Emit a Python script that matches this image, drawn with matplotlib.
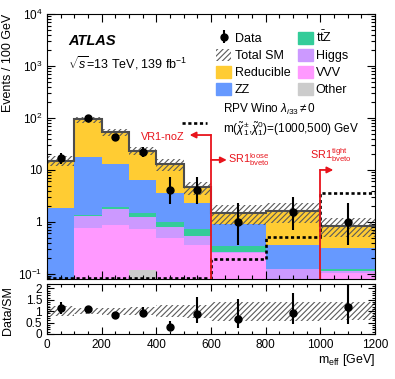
import numpy as np
import matplotlib
matplotlib.use('Agg')
import matplotlib.pyplot as plt
from matplotlib.patches import Patch
from matplotlib.ticker import MultipleLocator, LogLocator, FuncFormatter, NullFormatter

plt.rcParams['font.family'] = ['Liberation Sans', 'DejaVu Sans']
plt.rcParams['mathtext.fontset'] = 'custom'
plt.rcParams['mathtext.rm'] = 'Liberation Sans'
plt.rcParams['mathtext.it'] = 'Liberation Sans:italic'
plt.rcParams['mathtext.bf'] = 'Liberation Sans:bold'
plt.rcParams['hatch.linewidth'] = 0.8
plt.rcParams['hatch.color'] = '#5a5a5a'

# m_eff binning (GeV)
edges = np.array([0, 100, 200, 300, 400, 500, 600, 800, 1000, 1200])
centers = np.array([50, 150, 250, 350, 450, 550, 700, 900, 1100])

# background components, events / 100 GeV (stack order bottom -> top)
other = np.array([0.005, 0.005, 0.005, 0.12, 0.005, 0.005, 0.003, 0.003, 0.003])
vvv = np.array([0.02, 0.755, 0.87, 0.60, 0.48, 0.355, 0.25, 0.07, 0.10])
higgs = np.array([0.02, 0.56, 0.875, 0.51, 0.325, 0.185, 0.005, 0.05, 0.01])
ttz = np.array([0.01, 0.04, 0.17, 0.24, 0.19, 0.175, 0.09, 0.002, 0.012])
zz = np.array([1.83, 16.1, 11.0, 4.93, 2.66, 1.58, 0.55, 0.24, 0.195])
reducible = np.array([13.2, 76.5, 40.1, 17.1, 9.24, 2.3, 0.61, 1.29, 0.53])
sm_unc = np.array([0.22, 0.13, 0.15, 0.18, 0.25, 0.28, 0.42, 0.42, 0.40])

# data with asymmetric errors
data = np.array([17, 102, 43, 22, 4.1, 4.1, 1.0, 1.53, 1.0])
data_lo = np.array([12.9, 92, 36.5, 17.5, 2.2, 2.2, 0.36, 0.7, 0.36])
data_hi = np.array([21.3, 112, 50, 27.5, 7.4, 7.4, 2.3, 3.0, 2.3])

# RPV wino signal
signal = np.array([0.082, 0.082, 0.082, 0.082, 0.082, 0.082, 0.19, 0.51, 3.66])

components = [other, vvv, higgs, ttz, zz, reducible]
colors = ['#cccccc', '#ff99ff', '#cc99ff', '#33cc99', '#6699ff', '#ffcc33']
labels = ['Other', 'VVV', 'Higgs', r'$\mathrm{t\bar{t}Z}$', 'ZZ', 'Reducible']
red = '#e8141c'
hcol = '#5a5a5a'

fig = plt.figure(figsize=(3.95, 3.79), dpi=100)
ax = fig.add_axes([0.119, 0.264, 0.830, 0.699])
rax = fig.add_axes([0.119, 0.119, 0.830, 0.132])

# stacked backgrounds
bottom = np.full(len(centers), 1e-3)
for vals, c in zip(components, colors):
    top = bottom + vals
    ax.stairs(top, edges, baseline=bottom, fill=True, color=c, lw=0)
    bottom = top
total = bottom

ax.stairs(total * (1 + sm_unc), edges, baseline=total * (1 - sm_unc), fill=True,
          facecolor='none', edgecolor=hcol, hatch='//////', lw=0)
ax.stairs(total, edges, baseline=None, color='#4d4d4d', lw=1.5)
ax.stairs(signal, edges, baseline=None, color='k', lw=1.9, ls=(0, (1.2, 1.0)))

dat = ax.errorbar(centers, data, yerr=[data - data_lo, data_hi - data], fmt='o',
                  color='k', ms=5, lw=1.5, capsize=0, zorder=5)

# region markers
ax.plot([600, 600], [0.08, 47], color=red, lw=1.3, zorder=6)
ax.plot([1000, 1000], [0.08, 10], color=red, lw=1.3, zorder=6)
arr = dict(arrowstyle='-|>', color=red, lw=1.3, mutation_scale=9, shrinkA=0, shrinkB=0)
ax.annotate('', xy=(522, 47), xytext=(600, 47), arrowprops=arr, zorder=6)
ax.annotate('', xy=(658, 15.6), xytext=(600, 15.6), arrowprops=arr, zorder=6)
ax.annotate('', xy=(1048, 10), xytext=(1000, 10), arrowprops=arr, zorder=6)
ax.text(505, 43, 'VR1-noZ', color=red, fontsize=7.8, ha='right', va='center')
ax.text(662, 15.6, r'SR1$^{\rm loose}_{\rm bveto}$', color=red, fontsize=7.8,
        ha='left', va='center')
ax.text(962, 19, r'SR1$^{\rm tight}_{\rm bveto}$', color=red, fontsize=7.8,
        ha='left', va='center')

ax.set_xlim(0, 1200)
ax.set_yscale('log')
ax.set_ylim(0.08, 1e4)
ax.xaxis.set_major_locator(MultipleLocator(200))
ax.xaxis.set_minor_locator(MultipleLocator(50))
ax.yaxis.set_major_locator(LogLocator(base=10, numticks=20))
ax.yaxis.set_minor_locator(LogLocator(base=10, subs=np.arange(2, 10), numticks=20))
ax.yaxis.set_minor_formatter(NullFormatter())


def logfmt(v, pos):
    if abs(v - 1) < 1e-9:
        return '1'
    if abs(v - 10) < 1e-9:
        return '10'
    return r'$10^{%d}$' % round(np.log10(v))


ax.yaxis.set_major_formatter(FuncFormatter(logfmt))
ax.tick_params(which='both', direction='in', top=True, right=True, labelbottom=False,
               labelsize=8.5, width=0.8)
ax.tick_params(which='major', length=6)
ax.tick_params(which='minor', length=3)
ax.set_ylabel('Events / 100 GeV', fontsize=9, loc='top')
ax.yaxis.set_label_coords(-0.10, 1.0)

ax.text(0.064, 0.898, 'ATLAS', transform=ax.transAxes, fontsize=10.5,
        fontweight='bold', style='italic', va='center')
ax.text(0.064, 0.815, r'$\sqrt{s}$=13 TeV, 139 fb$^{-1}$', transform=ax.transAxes,
        fontsize=9, va='center')

handles = [dat,
           Patch(facecolor='none', edgecolor=hcol, hatch='//////', lw=0),
           Patch(color=colors[5]), Patch(color=colors[4]),
           Patch(color=colors[3]), Patch(color=colors[2]),
           Patch(color=colors[1]), Patch(color=colors[0])]
leg_labels = ['Data', 'Total SM', 'Reducible', 'ZZ', labels[3], 'Higgs', 'VVV', 'Other']
ax.legend(handles, leg_labels, ncol=2, loc='upper left', bbox_to_anchor=(0.49, 0.975),
          frameon=False, fontsize=9, handlelength=1.2, handleheight=1.1,
          handletextpad=0.25, labelspacing=0.3, columnspacing=0.6, borderpad=0.2)

ax.text(0.537, 0.638, r'RPV Wino $\lambda_{i33}\neq 0$', transform=ax.transAxes,
        fontsize=8.5, va='center')
ax.text(0.537, 0.566,
        r'm($\tilde{\chi}^{\pm}_{1}$,$\tilde{\chi}^{0}_{1}$)=(1000,500) GeV',
        transform=ax.transAxes, fontsize=8.5, va='center')
ax.plot([495, 585], [80, 80], color='k', lw=1.9, ls=(0, (1.2, 1.0)))

# ratio panel
rax.stairs(1 + sm_unc, edges, baseline=1 - sm_unc, fill=True,
           facecolor='none', edgecolor=hcol, hatch='//////', lw=0)
ratio = data / total
rax.errorbar(centers, ratio, yerr=[(data - data_lo) / total, (data_hi - data) / total],
             fmt='o', color='k', ms=5, lw=1.5, capsize=0, zorder=5)
rax.set_xlim(0, 1200)
rax.set_ylim(0, 2.2)
rax.xaxis.set_major_locator(MultipleLocator(200))
rax.xaxis.set_minor_locator(MultipleLocator(50))
rax.yaxis.set_major_locator(MultipleLocator(0.5))
rax.yaxis.set_minor_locator(MultipleLocator(0.1))
rax.yaxis.set_major_formatter(FuncFormatter(lambda v, p: '%g' % v))
rax.tick_params(which='both', direction='in', top=True, right=True, labelsize=8.5, width=0.8)
rax.tick_params(which='major', length=5)
rax.tick_params(which='minor', length=2.5)
rax.set_ylabel('Data/SM', fontsize=9, loc='top')
rax.yaxis.set_label_coords(-0.10, 0.95)
rax.set_xlabel(r'm$_{\rm eff}$ [GeV]', fontsize=9, loc='right')
rax.xaxis.set_label_coords(1.0, -0.36)

for a in (ax, rax):
    for s in a.spines.values():
        s.set_linewidth(0.8)

fig.savefig('out.png', dpi=100)
